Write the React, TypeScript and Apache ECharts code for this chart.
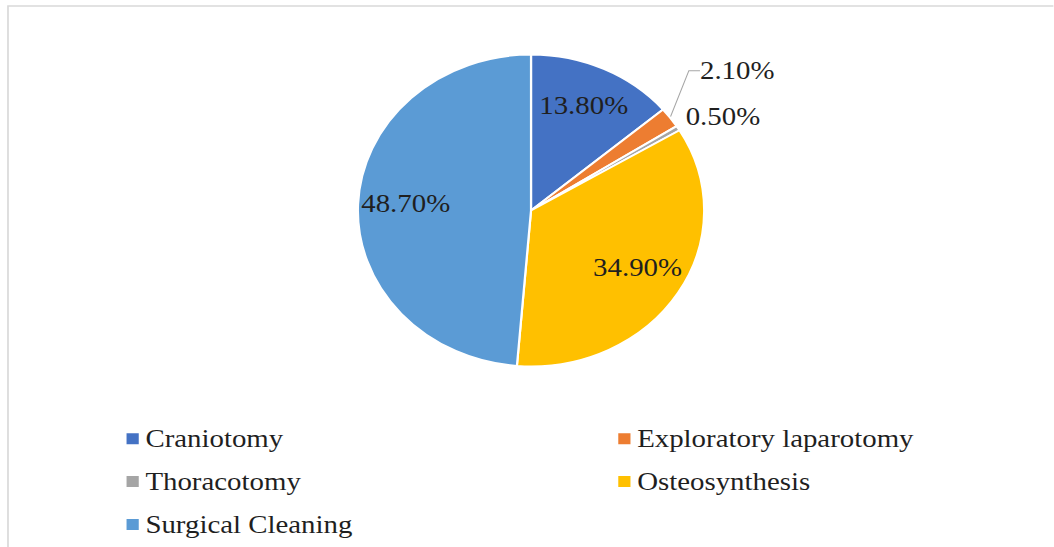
import React, { useEffect, useRef } from "react";
import * as echarts from "echarts";

const categories = ["Craniotomy", "Exploratory laparotomy", "Thoracotomy", "Osteosynthesis", "Surgical Cleaning"];
const percentages = [13.8, 2.1, 0.5, 34.9, 48.7];
const colors = ["#4472C4", "#ED7D31", "#A5A5A5", "#FFC000", "#5B9BD5"];
const insideLabel = [true, false, false, true, true];
const leftLegend = ["Craniotomy", "Thoracotomy", "Surgical Cleaning"];
const rightLegend = ["Exploratory laparotomy", "Osteosynthesis"];

const K = 1.11; // horizontal stretch of the original picture
const W = 949;
const H = 547;
const FONT = "'Liberation Serif', 'Times New Roman', serif";
const TEXT_COLOR = "#1f1f1f";
const FS = 26;

const fmt = (v: number) => `${v.toFixed(2)}%`;

export default function App() {
  const ref = useRef<HTMLDivElement>(null);
  useEffect(() => {
    if (!ref.current) return;
    const chart = echarts.init(ref.current, undefined, { renderer: "svg" });
    const outsidePos: Record<number, [number, number]> = { 1: [630.6, 70.7], 2: [617.7, 116.7] };
    const legendCommon = {
      orient: "vertical" as const,
      top: 420.8,
      padding: 5,
      itemWidth: 13,
      itemHeight: 13,
      itemGap: 16.8,
      icon: "rect",
      selectedMode: false,
      textStyle: { fontFamily: FONT, fontSize: FS, lineHeight: 25, color: TEXT_COLOR },
    };
    chart.setOption({
      animation: false,
      color: colors,
      graphic: [
        {
          type: "rect",
          shape: { x: 7.2, y: 6, width: 1000, height: 600 },
          style: { fill: "none", stroke: "#d9d9d9", lineWidth: 1.5 },
          silent: true,
          z: -10,
        },
      ],
      legend: [
        { ...legendCommon, left: 107, data: leftLegend },
        { ...legendCommon, left: 550, data: rightLegend },
      ],
      series: [
        {
          type: "pie",
          center: [478.4, 210.5],
          radius: 156,
          startAngle: 90,
          clockwise: true,
          avoidLabelOverlap: false,
          silent: true,
          itemStyle: { borderColor: "#ffffff", borderWidth: 2 },
          label: {
            show: false,
            position: "outside",
            fontFamily: FONT,
            fontSize: FS,
            color: TEXT_COLOR,
            formatter: (p: any) => fmt(p.value),
          },
          labelLine: { show: true, length: 15, length2: 10, lineStyle: { color: "#a6a6a6", width: 1 } },
          labelLayout: (p: any) => {
            const pos = outsidePos[p.dataIndex];
            if (!pos) return {};
            return { x: pos[0], y: pos[1], align: "left", verticalAlign: "middle" };
          },
          data: categories.map((name, i) => ({
            name,
            value: percentages[i],
            itemStyle: { color: colors[i] },
            label: { show: !insideLabel[i] },
            labelLine: { show: i === 1 },
          })),
        },
        {
          type: "pie",
          center: [478.4, 208],
          radius: 220,
          startAngle: 90,
          clockwise: true,
          silent: true,
          legendHoverLink: false,
          itemStyle: { color: "rgba(0,0,0,0)", borderWidth: 0 },
          label: {
            position: "inside",
            fontFamily: FONT,
            fontSize: FS,
            color: TEXT_COLOR,
            formatter: (p: any) => fmt(p.value),
          },
          labelLine: { show: false },
          data: categories.map((name, i) => ({
            name,
            value: percentages[i],
            itemStyle: { color: "rgba(0,0,0,0)" },
            label: { show: insideLabel[i] },
          })),
        },
      ],
    });
    return () => chart.dispose();
  }, []);
  return (
    <div
      ref={ref}
      style={{
        position: "absolute",
        left: 0,
        top: 0,
        width: W,
        height: H,
        transform: `scaleX(${K})`,
        transformOrigin: "0 0",
        background: "#ffffff",
      }}
    />
  );
}
